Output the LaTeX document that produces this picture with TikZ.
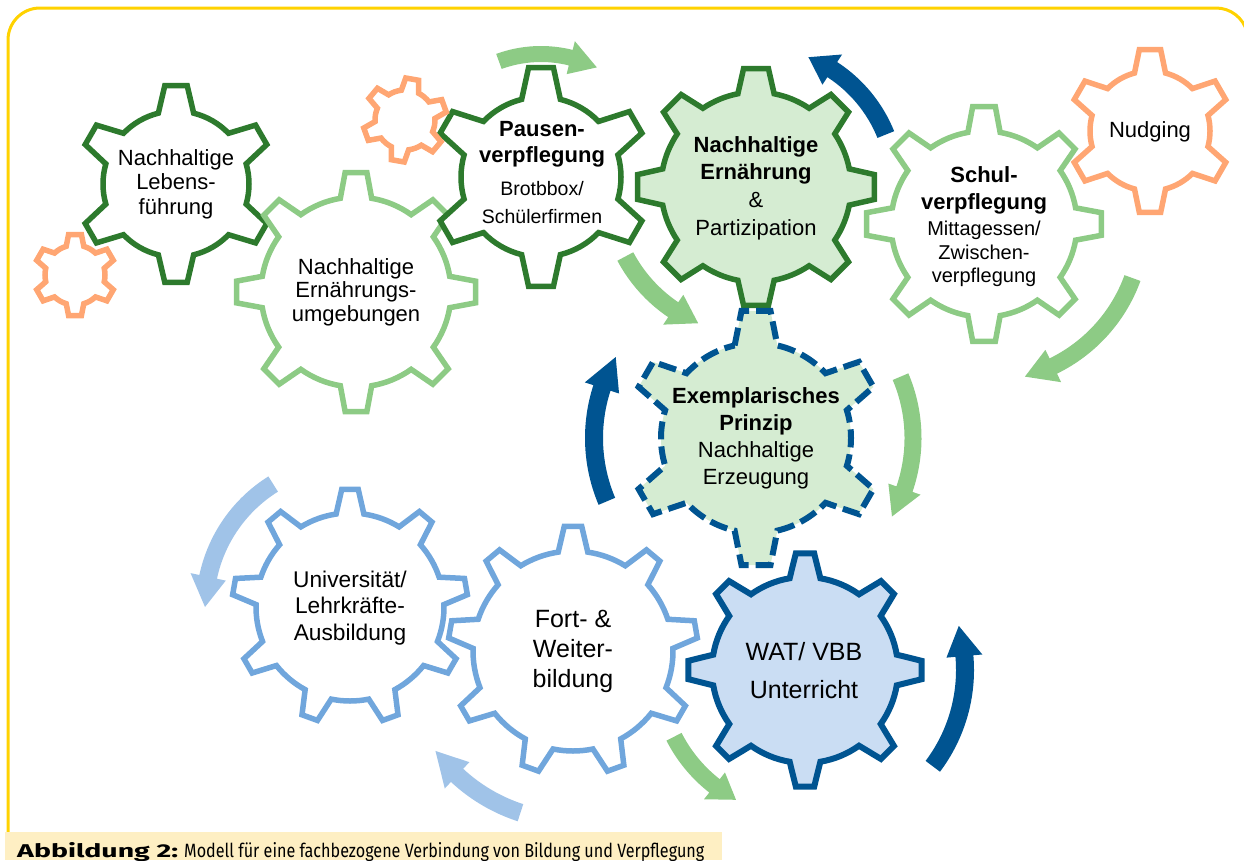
\documentclass[tikz,border=0pt]{standalone}
\usepackage{fontspec}
\setmainfont{Liberation Sans}
\newfontfamily\capfont{Fira Sans}
\usetikzlibrary{calc}

\definecolor{dgreen}{RGB}{45,122,45}
\definecolor{lgreen}{RGB}{141,203,133}
\definecolor{pgreen}{RGB}{213,236,210}
\definecolor{orange}{RGB}{255,166,115}
\definecolor{dblue}{RGB}{0,84,145}
\definecolor{mblue}{RGB}{112,166,220}
\definecolor{pblue}{RGB}{202,221,243}
\definecolor{ablue}{RGB}{160,195,232}
\definecolor{frameyellow}{RGB}{255,210,0}
\definecolor{capbg}{RGB}{254,239,195}

% teeth, inner radius, outer radius, half angle top, half angle base, first tooth
\newcommand{\gearpath}[6]{({#6-#5}:#2) \foreach \k in {1,...,#1}{
    -- ({#6+(\k-1)*360/#1-#4}:#3) -- ({#6+(\k-1)*360/#1+#4}:#3)
    -- ({#6+(\k-1)*360/#1+#5}:#2)
    arc[start angle={#6+(\k-1)*360/#1+#5},end angle={#6+\k*360/#1-#5},radius=#2]} -- cycle}
% radius, half width, half width of head, from, to, tip
\newcommand{\arcarrow}[6]{({#4}:{#1+#2}) arc[start angle=#4,end angle=#5,radius={#1+#2}]
  -- ({#5}:{#1+#3}) -- ({#6}:#1) -- ({#5}:{#1-#3}) -- ({#5}:{#1-#2})
  arc[start angle=#5,end angle=#4,radius={#1-#2}] -- cycle}

\begin{document}
\begin{tikzpicture}[x=1pt,y=-1pt,line join=miter,
  gear/.style={line width=5.5pt},
  lbl/.style={align=center,inner sep=0pt,font=\fontsize{22}{26}\selectfont}]
\clip (0,0) rectangle (1244,860);
\path
(176,184) coordinate (G1)
(356,292) coordinate (G2)
(541,177) coordinate (G3)
(756,187) coordinate (G4)
(984,224) coordinate (G5)
(1150,131) coordinate (G6)
(405,120) coordinate (G7)
(75,275) coordinate (G8)
(756,438) coordinate (G9)
(805,670) coordinate (G10)
(573,651) coordinate (G11)
(350,607) coordinate (G12)
;
\draw[frameyellow,line width=3pt] (8,832) -- (8,40) arc[start angle=180,end angle=270,radius=32]
  -- (1216,8) arc[start angle=270,end angle=345,radius=32];

\draw[gear,dgreen,shift={(G1)}] \gearpath{6}{73}{99}{6.5}{14}{-90};
\draw[gear,lgreen,shift={(G2)}] \gearpath{8}{95}{120}{5.2}{9.5}{-90};
\draw[gear,dgreen,fill=white,shift={(G3)}] \gearpath{6}{80}{110}{6.5}{14}{-90};
\draw[gear,dgreen,fill=pgreen,shift={(G4)}] \gearpath{8}{95}{119}{6}{11}{-90};
\draw[gear,lgreen,shift={(G5)}] \gearpath{8}{93}{118}{5.5}{10}{-90};
\draw[gear,orange,shift={(G6)}] \gearpath{6}{60}{82}{7.5}{15}{-90};
\draw[gear,orange,shift={(G7)}] \gearpath{6}{30}{42}{9}{17}{-80};
\draw[gear,orange,shift={(G8)}] \gearpath{6}{30}{41}{9}{17}{-90};
\draw[gear,dblue,line width=6pt,dash pattern=on 18pt off 7pt,fill=pgreen,shift={(G9)}] \gearpath{6}{95}{128}{6.5}{13}{-90};
\draw[gear,dblue,line width=6pt,fill=pblue,shift={(G10)}] \gearpath{8}{93}{117}{4.5}{9.5}{-90};
\draw[gear,mblue,fill=white,shift={(G11)}] \gearpath{9}{100}{125}{4}{8.5}{-90};
\draw[gear,mblue,shift={(G12)}] \gearpath{9}{94}{118}{4}{8.5}{-90};

\fill[lgreen,shift={(G3)}] \arcarrow{123}{8}{17}{-110}{-76}{-63};
\fill[dblue,shift={(G4)}] \arcarrow{140}{9}{18}{-22}{-57}{-68};
\fill[lgreen,shift={(G4)}] \arcarrow{148}{9}{18}{152}{124}{113};
\fill[lgreen,shift={(G5)}] \arcarrow{158}{8.5}{18}{20}{64}{75};
\fill[dblue,shift={(G9)}] \arcarrow{162}{9}{18}{157}{198}{210};
\fill[lgreen,shift={(G9)}] \arcarrow{157}{8.5}{17}{-23}{19}{30};
\fill[dblue,shift={(G10)}] \arcarrow{160}{9}{18}{37}{-5}{-16};
\fill[lgreen,shift={(G10)}] \arcarrow{147}{8.5}{17}{153}{128}{118};
\fill[ablue,shift={(G11)}] \arcarrow{170}{9}{18}{108}{133}{144};
\fill[ablue,shift={(G12)}] \arcarrow{145}{9}{18}{238}{192}{180};

\node[lbl,font=\fontsize{22}{24.5}\selectfont] (lebens) at (G1) {Nachhaltige\\Lebens-\\führung};
\node[lbl,font=\fontsize{22}{23.5}\selectfont] (umgeb) at (G2) {Nachhaltige\\Ernährungs-\\umgebungen};
\node[lbl] (pausen) at ($(G3)+(1,-4)$) {\textbf{Pausen-}\\\textbf{verpflegung}\\[7pt]{\fontsize{19.5}{24}\selectfont Brotbbox/}\\[2pt]{\fontsize{19.5}{24}\selectfont Schülerfirmen}};
\node[lbl,font=\fontsize{22}{27.7}\selectfont] (ernaehrung) at ($(G4)+(0,1)$) {\textbf{Nachhaltige}\\\textbf{Ernährung}\\\&\\Partizipation};
\node[lbl,font=\fontsize{22}{24}\selectfont] (schul) at ($(G5)+(0,3)$) {\textbf{Schul-}\\[3pt]\textbf{verpflegung}\\[2pt]{\fontsize{20}{24}\selectfont Mittagessen/}\\{\fontsize{20}{24}\selectfont Zwischen-}\\[-1pt]{\fontsize{20}{24}\selectfont verpflegung}};
\node[lbl] (nudging) at ($(G6)+(0,1)$) {Nudging};
\node[lbl,font=\fontsize{22}{27}\selectfont] (prinzip) at (G9) {\textbf{Exemplarisches}\\\textbf{Prinzip}\\Nachhaltige\\Erzeugung};
\node[lbl,font=\fontsize{25}{38}\selectfont] (wat) at ($(G10)+(-1,1)$) {WAT/ VBB\\Unterricht};
\node[lbl,font=\fontsize{25}{30}\selectfont] (fort) at (G11) {Fort- \&\\Weiter-\\bildung};
\node[lbl,font=\fontsize{22.7}{26.5}\selectfont] (uni) at ($(G12)+(0,1)$) {Universität/\\Lehrkräfte-\\Ausbildung};

\fill[capbg] (5,832) rectangle (722,860);
\node[anchor=base west,inner sep=0pt] (capbold) at (17,857) {\resizebox{161pt}{15pt}{\capfont\bfseries Abbildung 2:}};
\node[anchor=base west,inner sep=0pt] (captext) at (184,857) {\resizebox{520pt}{15pt}{\capfont Modell für eine fachbezogene Verbindung von Bildung und Verpflegung}};
\end{tikzpicture}
\end{document}
